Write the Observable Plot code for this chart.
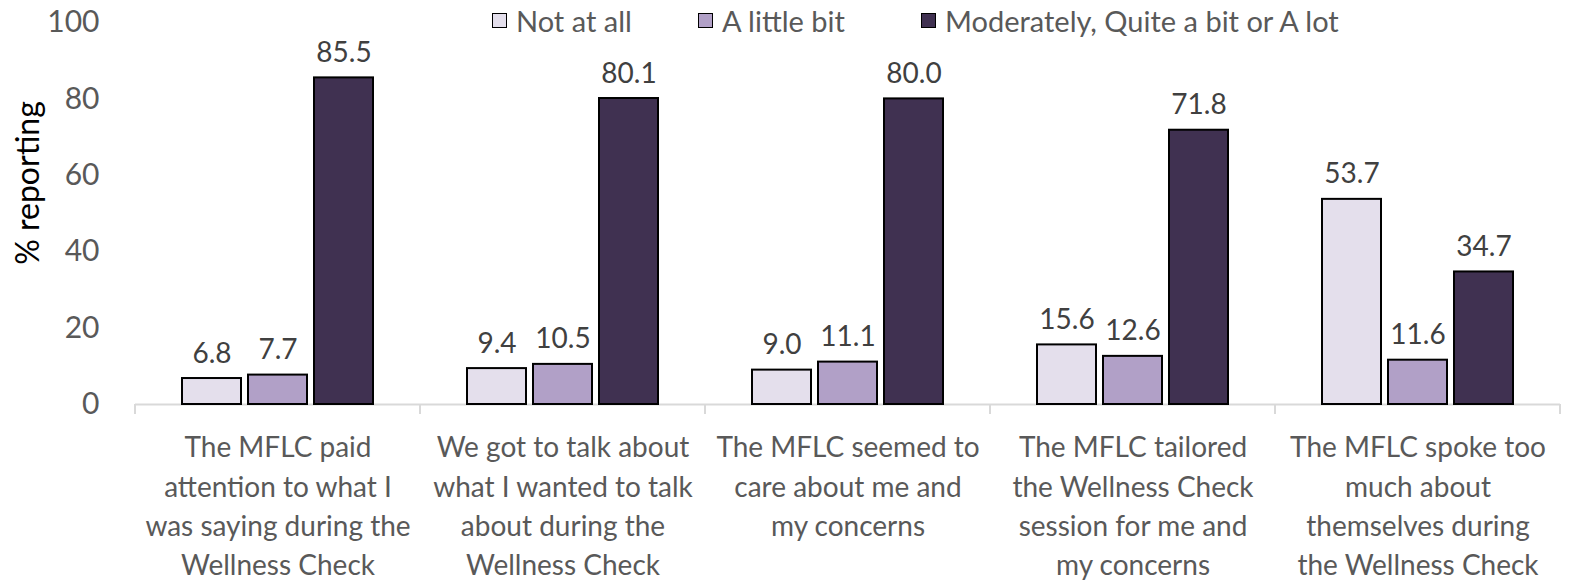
<!DOCTYPE html>
<html>
<head>
<meta charset="utf-8">
<script src="https://cdn.jsdelivr.net/npm/d3@7"></script>
<script src="https://cdn.jsdelivr.net/npm/@observablehq/plot@0.6"></script>
<style>
  html, body { margin: 0; padding: 0; background: #fff; }
  #wrap { position: relative; width: 1572px; height: 580px; font-family: Lato, "Open Sans", sans-serif; }
  #legend { position: absolute; top: 0; left: 0; width: 1572px; height: 40px; }
  .item { position: absolute; top: 3px; display: flex; align-items: center; font-size: 29px; color: #595959; white-space: nowrap; }
  .sw { width: 15px; height: 15px; border: 1.5px solid #000; margin-right: 9px; box-sizing: border-box; }
</style>
</head>
<body>
<div id="wrap"><div id="legend"></div></div>
<script>
const categories = ["c1", "c2", "c3", "c4", "c5"];
const categoryLabels = [
  "The MFLC paid\nattention to what I\nwas saying during the\nWellness Check",
  "We got to talk about\nwhat I wanted to talk\nabout during the\nWellness Check",
  "The MFLC seemed to\ncare about me and\nmy concerns",
  "The MFLC tailored\nthe Wellness Check\nsession for me and\nmy concerns",
  "The MFLC spoke too\nmuch about\nthemselves during\nthe Wellness Check"
];
const series = ["Not at all", "A little bit", "Moderately, Quite a bit or A lot"];
const notAtAll = [6.8, 9.4, 9.0, 15.6, 53.7];
const aLittleBit = [7.7, 10.5, 11.1, 12.6, 11.6];
const moderatelyOrMore = [85.5, 80.1, 80.0, 71.8, 34.7];
const seriesColors = ["#E4DFEC", "#B1A0C7", "#403151"];
const yTicks = [0, 20, 40, 60, 80, 100];
const yLabel = "% reporting";

const seriesValues = [notAtAll, aLittleBit, moderatelyOrMore];
const data = categories.flatMap((c, i) => series.map((s, j) => ({cat: c, series: s, value: seriesValues[j][i]})));
const labelOf = new Map(categories.map((c, i) => [c, categoryLabels[i]]));

const font = 'Lato, "Open Sans", sans-serif';
const plot = Plot.plot({
  width: 1572,
  height: 580,
  marginLeft: 134,
  marginRight: 12,
  marginTop: 22,
  marginBottom: 176,
  style: {fontFamily: font, background: "transparent", overflow: "visible"},
  fx: {domain: categories, padding: 0},
  x: {domain: series, paddingInner: 0.106, paddingOuter: 0.712, axis: null},
  y: {domain: [0, 100], axis: null},
  color: {domain: series, range: seriesColors},
  marks: [
    Plot.ruleY([0], {stroke: "#D9D9D9", strokeWidth: 2}),
    Plot.barY(data, {fx: "cat", x: "series", y: "value", fill: "series", stroke: "#000", strokeWidth: 2}),
    Plot.text(data, {fx: "cat", x: "series", y: "value", text: d => d3.format(".1f")(d.value),
      lineAnchor: "bottom", dy: -16, fontSize: 28, fill: "#404040"}),
    Plot.axisY({ticks: yTicks, tickSize: 0, tickPadding: 36, fontSize: 30, color: "#595959", label: null}),
    Plot.axisFx({anchor: "bottom", tickSize: 0, tickPadding: 25, fontSize: 28, lineHeight: 1.4,
      color: "#595959", tickFormat: c => labelOf.get(c), label: null})
  ]
});

// boundary ticks between categories, from the fx scale
const fx = plot.scale("fx");
const y = plot.scale("y");
const svg = d3.select(plot);
const bounds = categories.map(c => fx.apply(c));
bounds.push(fx.apply(categories[categories.length - 1]) + fx.bandwidth);
svg.append("g").attr("stroke", "#D9D9D9").attr("stroke-width", 2)
  .selectAll("line").data(bounds).join("line")
  .attr("x1", d => d).attr("x2", d => d)
  .attr("y1", y.apply(0)).attr("y2", y.apply(0) + 10);

// y axis title
svg.append("text")
  .attr("transform", `translate(28,${(y.apply(0) + y.apply(100)) / 2 - 30}) rotate(-90)`)
  .attr("text-anchor", "middle").attr("dy", "0.35em")
  .attr("font-size", 32).attr("fill", "#000").attr("font-family", font)
  .text(yLabel);

document.getElementById("wrap").appendChild(plot);
plot.style.position = "absolute";
plot.style.left = "0"; plot.style.top = "0";

// legend
const legendLefts = [492, 698, 921];
const legend = d3.select("#legend");
series.forEach((s, i) => {
  const it = legend.append("div").attr("class", "item").style("left", legendLefts[i] + "px");
  it.append("div").attr("class", "sw").style("background", seriesColors[i]);
  it.append("span").text(s);
});
</script>
</body>
</html>
